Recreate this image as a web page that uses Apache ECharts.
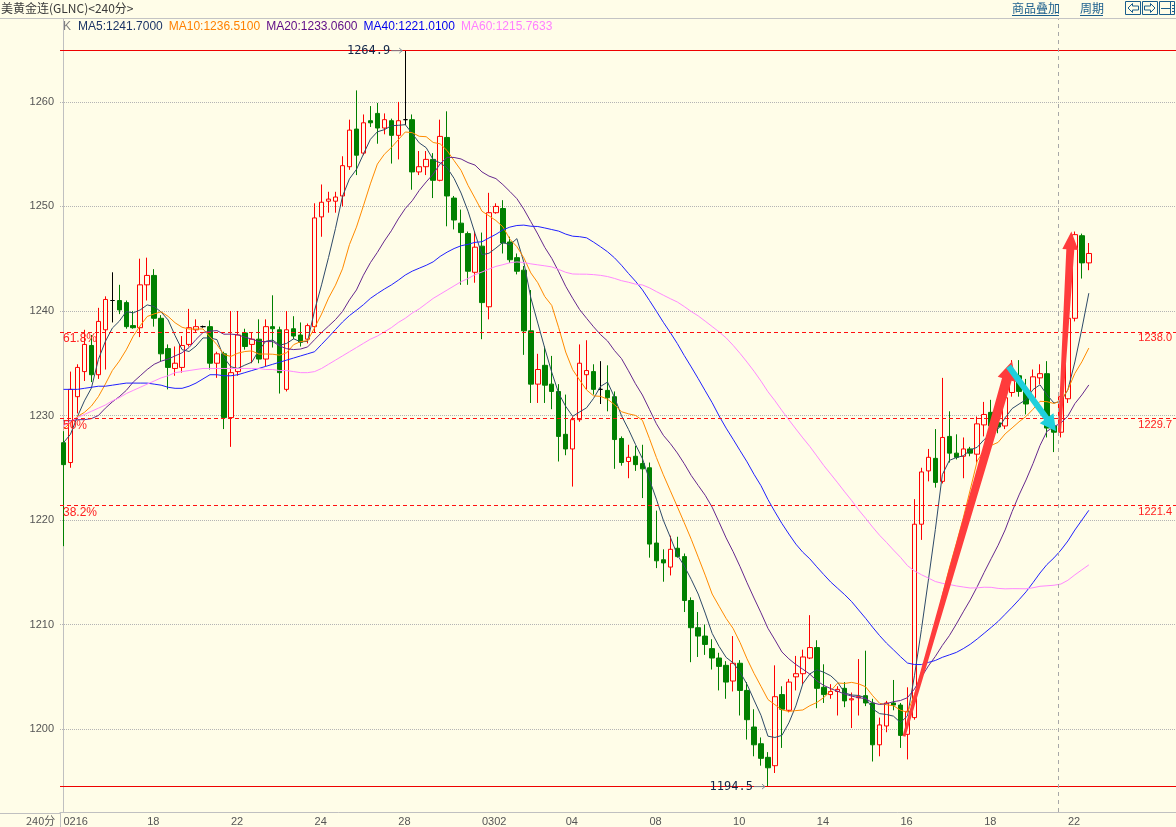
<!DOCTYPE html>
<html><head><meta charset="utf-8">
<script src="https://cdn.jsdelivr.net/npm/echarts@6/dist/echarts.min.js"></script>
<style>html,body{margin:0;padding:0;background:#fffde8;}#c{width:1176px;height:827px;}</style>
</head><body><div id="c"></div><script>
// ---- data ----
const opens=[1227.4,1225.5,1231.8,1234.2,1236.7,1233.9,1238.2,1241.0,1241.0,1240.8,
1238.6,1238.4,1242.5,1243.4,1239.3,1236.4,1234.5,1234.6,1236.8,1238.2,
1238.5,1238.5,1235.0,1235.9,1229.8,1234.2,1237.9,1236.8,1237.3,1235.4,
1238.5,1238.2,1232.5,1238.3,1237.7,1237.3,1238.5,1249.0,1250.5,1250.5,
1251.0,1253.8,1257.4,1255.1,1258.2,1258.9,1257.5,1258.2,1256.8,1258.3,
1258.3,1253.3,1253.8,1254.5,1252.5,1256.6,1250.8,1248.4,1247.4,1243.7,
1246.2,1240.4,1249.4,1249.8,1246.6,1245.1,1243.9,1238.1,1233.0,1234.8,
1233.0,1232.3,1228.2,1226.8,1229.6,1233.9,1234.2,1232.5,1232.4,1231.8,
1227.8,1225.6,1226.1,1225.4,1225.0,1217.8,1216.2,1215.5,1217.3,1216.5,
1212.3,1209.7,1208.9,1207.7,1206.8,1206.1,1204.6,1206.3,1203.7,1200.2,
1198.6,1197.3,1196.5,1203.3,1201.8,1205.0,1205.3,1206.8,1207.8,1204.0,
1203.3,1203.6,1203.9,1202.8,1203.0,1203.2,1202.5,1198.5,1200.3,1202.5,
1202.3,1199.5,1201.1,1219.6,1224.7,1225.9,1223.7,1228.0,1226.4,1226.1,
1226.8,1226.3,1229.1,1230.3,1229.3,1229.0,1232.2,1233.8,1232.3,1231.7,
1233.6,1234.0,1229.0,1228.4,1231.6,1239.3,1247.2,1244.6];
const closes=[1225.3,1232.5,1234.6,1236.8,1233.9,1239.0,1241.1,1241.0,1240.1,1238.5,
1238.4,1242.5,1243.4,1239.3,1235.9,1234.6,1235.0,1236.7,1238.4,1238.5,
1238.5,1235.0,1235.9,1229.8,1234.1,1237.7,1236.6,1237.3,1235.4,1238.5,
1238.3,1234.1,1238.2,1237.6,1237.0,1238.6,1248.9,1250.4,1250.7,1250.9,
1253.9,1257.3,1254.9,1258.0,1258.0,1257.5,1258.3,1256.8,1258.2,1258.3,
1253.3,1253.8,1254.5,1252.5,1256.7,1251.0,1248.7,1247.5,1243.8,1246.1,
1240.8,1249.4,1250.0,1246.5,1244.9,1243.8,1238.1,1233.0,1234.4,1232.9,
1232.3,1228.0,1226.8,1229.6,1235.0,1234.3,1232.5,1232.5,1231.7,1227.7,
1225.5,1226.0,1225.3,1224.9,1217.7,1216.1,1215.9,1217.2,1216.5,1212.3,
1209.7,1208.9,1208.1,1206.8,1206.0,1204.5,1206.3,1203.7,1200.9,1198.5,
1197.2,1196.3,1203.1,1201.9,1204.5,1205.3,1206.9,1207.8,1203.9,1203.3,
1203.6,1203.8,1202.7,1202.9,1203.1,1202.5,1198.5,1200.4,1202.5,1202.3,
1199.4,1201.7,1219.6,1224.6,1226.0,1223.6,1227.9,1226.4,1226.0,1226.8,
1226.4,1229.2,1230.1,1229.0,1228.9,1231.7,1233.6,1232.3,1231.1,1233.7,
1234.0,1228.8,1228.4,1231.8,1239.3,1247.3,1244.6,1245.5];
const lows=[1217.5,1225.0,1230.2,1233.3,1233.2,1233.5,1234.4,1238.9,1239.7,1238.3,
1238.3,1237.5,1241.0,1238.5,1235.2,1232.5,1233.8,1234.1,1236.6,1238.0,
1238.4,1234.4,1233.6,1228.7,1227.0,1233.8,1236.3,1235.0,1235.0,1234.7,
1236.5,1232.1,1232.3,1237.3,1236.6,1236.9,1237.9,1247.1,1249.4,1249.4,
1250.0,1253.5,1253.0,1254.9,1257.6,1256.0,1256.9,1254.1,1254.5,1257.8,
1251.6,1253.0,1253.0,1250.8,1252.4,1248.1,1247.8,1242.5,1242.5,1242.7,
1237.3,1239.2,1249.3,1245.5,1244.6,1243.5,1235.8,1231.2,1231.2,1231.2,
1230.6,1225.6,1226.2,1223.2,1229.4,1232.5,1232.0,1231.1,1230.4,1224.9,
1225.2,1224.0,1224.7,1222.1,1216.4,1215.4,1214.1,1214.7,1216.4,1211.2,
1206.4,1206.9,1207.1,1205.7,1203.7,1202.9,1203.6,1201.3,1199.0,1197.4,
1196.5,1194.5,1195.8,1198.2,1201.6,1203.7,1204.3,1206.7,1202.0,1202.5,
1202.9,1201.3,1202.1,1200.1,1201.3,1202.2,1196.9,1197.4,1199.7,1201.8,
1198.2,1197.1,1200.9,1218.1,1223.7,1223.1,1223.5,1225.5,1225.8,1224.0,
1226.1,1225.5,1228.0,1228.6,1228.3,1228.7,1231.8,1231.8,1230.1,1231.4,
1233.0,1227.9,1226.5,1227.9,1231.2,1239.0,1243.1,1243.9];
const highs=[1228.5,1234.2,1234.9,1238.2,1237.7,1240.3,1241.4,1243.7,1242.5,1241.0,
1240.0,1245.0,1245.1,1244.0,1239.6,1236.8,1236.6,1237.6,1240.2,1239.2,
1238.6,1239.1,1236.1,1236.1,1240.0,1240.0,1238.3,1237.9,1239.2,1239.2,
1241.5,1238.5,1240.0,1239.5,1238.9,1238.8,1250.3,1252.1,1251.4,1251.4,
1254.8,1258.3,1261.1,1258.8,1259.6,1259.9,1258.9,1258.4,1260.0,1264.9,
1258.8,1255.3,1255.3,1255.1,1258.3,1259.1,1251.0,1249.7,1247.6,1247.6,
1247.5,1251.3,1250.3,1250.6,1247.1,1245.5,1244.3,1242.0,1235.9,1236.6,
1235.7,1233.0,1232.0,1229.9,1236.8,1237.2,1234.9,1235.2,1234.8,1232.3,
1228.0,1227.2,1227.1,1227.2,1225.5,1220.9,1217.2,1218.5,1218.4,1216.8,
1212.6,1211.2,1210.0,1208.6,1207.3,1206.5,1208.9,1206.6,1204.5,1201.9,
1199.2,1197.8,1206.1,1204.1,1204.8,1207.0,1207.6,1210.9,1208.5,1206.2,
1204.3,1204.1,1204.5,1203.5,1206.7,1207.5,1202.9,1201.1,1202.7,1204.7,
1202.5,1204.0,1222.0,1225.0,1226.8,1228.7,1233.6,1230.4,1228.2,1227.9,
1227.0,1229.9,1231.3,1231.5,1231.0,1233.0,1235.3,1235.3,1233.5,1234.4,
1234.9,1235.2,1229.2,1232.3,1239.6,1247.6,1247.4,1246.5];
const tickLabels=['0216','18','22','24','28','0302','04','08','10','14','16','18','22'];
const ma5Head=[1227.4,1228.2,1229.9,1231.4];
const ma10Head=[1228.7,1229.3,1229.9,1230.3,1230.9,1231.8,1233.0,1234.3,1235.2];
const ma20Head=[1229.5,1229.5,1229.6,1229.6,1229.7,1230.0,1230.7,1231.3,1231.8,1232.4,
1233.2,1233.8,1234.4,1234.9,1235.2,1235.4,1235.7,1236.0,1236.5];
const ma40Head=[1232.5,1232.5,1232.5,1232.6,1232.7,1232.8,1232.8,1232.9,1233.0,1233.1,
1233.1,1233.1,1233.1,1233.0,1232.9,1232.7,1232.6,1232.6,1232.8,1233.1,
1233.5,1233.9,1233.9,1233.8,1233.8,1233.9,1234.1,1234.3,1234.5,1234.7,
1234.9,1235.1,1235.3,1235.5,1235.7,1235.9,1236.1,1236.8,1237.5];
const ma60Head=[1229.0,1229.4,1229.8,1230.1,1230.4,1230.7,1231.0,1231.4,1231.7,1232.1,
1232.4,1232.7,1233.0,1233.3,1233.6,1233.8,1234.1,1234.2,1234.3,1234.4,
1234.5,1234.5,1234.5,1234.5,1234.5,1234.5,1234.5,1234.5,1234.5,1234.4,
1234.4,1234.3,1234.3,1234.2,1234.1,1234.1,1234.2,1234.5,1234.9,1235.3,
1235.7,1236.1,1236.5,1236.9,1237.3,1237.6,1238.0,1238.4,1238.9,1239.3,
1239.8,1240.2,1240.7,1241.2,1241.6,1242.0,1242.4,1242.8,1243.1];
const maLegendValues=['1241.7000','1236.5100','1233.0600','1221.0100','1215.7633'];
const fibLevels=[1238.0,1229.7,1221.4];
const fibNames=['61.8%','50%','38.2%'];
const extremeLevels=[1264.9,1194.5];
const extremePoints=[[49,1264.9],[101,1194.5]];
const cursorIndex=142.6;
const arrowPoints=[[120.5,1199.3,136.0,1235.2],[142.8,1228.4,144.5,1247.6],[135.5,1234.7,142.3,1228.5]];

// ---- chart ----
const BG='#fffde8';
const SLOTS=160;
const cats=Array.from({length:SLOTS},(_,i)=>'b'+i);
function movingAvg(n,head){
  return closes.map((c,i)=>{
    if(i<n-1) return head[i];
    let s=0; for(let k=i-n+1;k<=i;k++) s+=closes[k];
    return +(s/n).toFixed(3);
  });
}
const candle=closes.map((c,i)=>[opens[i],c,lows[i],highs[i]]);
const maDefs=[['MA5',5,ma5Head,'#2e4a68'],['MA10',10,ma10Head,'#ff8a00'],['MA20',20,ma20Head,'#66288e'],['MA40',40,ma40Head,'#2020ff'],['MA60',60,ma60Head,'#ff88ff']];
const legendColors=['#1c3566','#ff8000','#5e0a86','#0000ee','#ff80ff'];
const arrowStyles=[{fill:'#ff3c3c',tw:3,sw:10,hw:19,hl:19},{fill:'#ff3c3c',tw:3,sw:8,hw:16,hl:18},{fill:'#1fd0dc',tw:6,sw:6,hw:17,hl:16}];
const FONT='Liberation Sans, Noto Sans CJK SC, sans-serif';

const chart=echarts.init(document.getElementById('c'),null,{renderer:'canvas'});
const series=[{
  type:'candlestick',name:'K',data:candle,barWidth:5,z:2,
  itemStyle:{color:BG,color0:'#008000',borderColor:'#ff0000',borderColor0:'#008000',borderColorDoji:'#000000',borderWidth:1},
  markLine:{silent:true,symbol:'none',animation:false,label:{show:false},
    data:extremeLevels.map(v=>({yAxis:v,lineStyle:{color:'#ee0000',type:'solid',width:1}}))
      .concat(fibLevels.map(v=>({yAxis:v,lineStyle:{color:'#ff1010',type:[4,3],width:1}})))}
}];
maDefs.forEach(d=>series.push({type:'line',name:d[0],data:movingAvg(d[1],d[2]),showSymbol:false,symbol:'none',z:3,
  lineStyle:{color:d[3],width:1},itemStyle:{color:d[3]}}));
series.push({type:'custom',xAxisIndex:1,yAxisIndex:0,silent:true,z:4,
  data:fibLevels.map((v,i)=>[i,v]),
  renderItem:(p,api)=>{const i=api.value(0),v=api.value(1);const pt=api.coord([-0.5,v]);
    return {type:'group',children:[
      {type:'text',style:{text:fibNames[i],x:pt[0]+3,y:pt[1]+1,verticalAlign:'top',fill:'#ff2020',font:'12px '+FONT}},
      {type:'text',style:{text:v.toFixed(1),x:api.getWidth()-4,y:pt[1]+1,align:'right',verticalAlign:'top',fill:'#ff2020',font:'11px '+FONT}}]};}
});
series.push({type:'custom',xAxisIndex:1,yAxisIndex:0,silent:true,z:5,
  data:extremePoints,
  renderItem:(p,api)=>{const pt=api.coord([api.value(0),api.value(1)]);const x=pt[0],y=pt[1];
    return {type:'group',children:[
      {type:'text',style:{text:api.value(1).toFixed(1),x:x-15,y:y,align:'right',verticalAlign:'middle',fill:'#14284a',font:'12px DejaVu Sans Mono, monospace'}},
      {type:'line',shape:{x1:x-14,y1:y,x2:x-3,y2:y},style:{stroke:'#7c8a96',lineWidth:1}},
      {type:'polyline',shape:{points:[[x-6,y-2.5],[x-3,y],[x-6,y+2.5]]},style:{stroke:'#7c8a96',lineWidth:1,fill:null}}]};},
  markLine:{silent:true,symbol:'none',animation:false,label:{show:false},data:[{xAxis:cursorIndex}],lineStyle:{color:'#a8a8a8',type:[4,4],width:1}}
});
series.push({type:'custom',xAxisIndex:1,yAxisIndex:0,silent:true,z:6,
  data:arrowPoints,
  renderItem:(p,api)=>{const s=arrowStyles[p.dataIndex];
    const a=api.coord([api.value(0),api.value(1)]),b=api.coord([api.value(2),api.value(3)]);
    const dx=b[0]-a[0],dy=b[1]-a[1],L=Math.hypot(dx,dy),ux=dx/L,uy=dy/L,nx=-uy,ny=ux;
    const sx=b[0]-ux*s.hl,sy=b[1]-uy*s.hl;
    const P=(x,y,w)=>[x+nx*w/2,y+ny*w/2];
    const pts=[P(a[0],a[1],s.tw),P(sx,sy,s.sw),P(sx,sy,s.hw),[b[0],b[1]],P(sx,sy,-s.hw),P(sx,sy,-s.sw),P(a[0],a[1],-s.tw)];
    return {type:'polygon',shape:{points:pts},style:{fill:s.fill}};}
});

const linkColor='#1b5e8c';
const legendTexts=[];
let lx=78;
maDefs.forEach((d,i)=>{const t=d[0]+':'+maLegendValues[i];
  legendTexts.push({type:'text',left:lx,top:21,style:{text:t,fill:legendColors[i],font:'12px '+FONT}});
  lx+=echarts.format.getTextRect ? echarts.format.getTextRect(t,'12px '+FONT).width+6 : t.length*6.8+6;});
const graphic=[
  {type:'line',shape:{x1:0,y1:18.5,x2:1176,y2:18.5},style:{stroke:'#c4c4c4',lineWidth:1}},
  {type:'text',left:1,top:2,style:{text:'美黄金连(GLNC)<240分>',fill:'#3a3a3a',font:'12px Noto Sans CJK SC, sans-serif'}},
  {type:'text',left:1012,top:2,style:{text:'商品叠加',fill:linkColor,font:'12px Noto Sans CJK SC, sans-serif'}},
  {type:'line',shape:{x1:1012,y1:15.5,x2:1059,y2:15.5},style:{stroke:linkColor,lineWidth:1}},
  {type:'text',left:1080,top:2,style:{text:'周期',fill:linkColor,font:'12px Noto Sans CJK SC, sans-serif'}},
  {type:'line',shape:{x1:1080,y1:15.5,x2:1103,y2:15.5},style:{stroke:linkColor,lineWidth:1}},
  {type:'rect',shape:{x:1125.5,y:1.5,width:15,height:13},style:{stroke:linkColor,fill:null,lineWidth:1}},
  {type:'polygon',shape:{points:[[1128,8],[1132.5,3.5],[1132.5,6],[1138.5,6],[1138.5,10],[1132.5,10],[1132.5,12.5]]},style:{stroke:linkColor,fill:null,lineWidth:1}},
  {type:'rect',shape:{x:1142.5,y:1.5,width:15,height:13},style:{stroke:linkColor,fill:null,lineWidth:1}},
  {type:'polygon',shape:{points:[[1155,8],[1150.5,3.5],[1150.5,6],[1144.5,6],[1144.5,10],[1150.5,10],[1150.5,12.5]]},style:{stroke:linkColor,fill:null,lineWidth:1}},
  {type:'rect',shape:{x:1159.5,y:1.5,width:15,height:13},style:{stroke:linkColor,fill:null,lineWidth:1}},
  {type:'line',shape:{x1:1170.5,y1:2,x2:1170.5,y2:14},style:{stroke:linkColor,lineWidth:1}},
  {type:'line',shape:{x1:1161,y1:8.5,x2:1170,y2:8.5},style:{stroke:linkColor,lineWidth:1}},
  {type:'line',shape:{x1:1172,y1:5.5,x2:1174,y2:5.5},style:{stroke:linkColor,lineWidth:1}},
  {type:'line',shape:{x1:1172,y1:8.5,x2:1174,y2:8.5},style:{stroke:linkColor,lineWidth:1}},
  {type:'line',shape:{x1:1172,y1:11.5,x2:1174,y2:11.5},style:{stroke:linkColor,lineWidth:1}},
  {type:'text',left:63,top:21,style:{text:'K',fill:'#808080',font:'12px '+FONT}}
].concat(legendTexts).concat([
  {type:'line',shape:{x1:0,y1:813.5,x2:60,y2:813.5},style:{stroke:'#c0c0c0',lineWidth:1}},
  {type:'line',shape:{x1:60.5,y1:813,x2:60.5,y2:827},style:{stroke:'#c0c0c0',lineWidth:1}},
  {type:'text',left:26,top:815,style:{text:'240分',fill:'#555',font:'11px Noto Sans CJK SC, sans-serif'}}
]);

chart.setOption({
  animation:false,backgroundColor:BG,
  grid:{left:60,top:19,width:SLOTS*7,height:794,containLabel:false},
  xAxis:[{type:'category',data:cats,boundaryGap:true,
      axisLine:{lineStyle:{color:'#c0c0c0'}},axisTick:{show:false},splitLine:{show:false},
      axisLabel:{interval:11,margin:4,align:'left',color:'#555',fontSize:11,fontFamily:FONT,
        formatter:(v,idx)=>tickLabels[idx/12]||''}},
    {type:'value',min:-0.5,max:SLOTS-0.5,show:false}],
  yAxis:{type:'value',min:1192.07,max:1267.93,splitNumber:8,
    axisLine:{show:true,lineStyle:{color:'#c0c0c0'}},axisTick:{show:false},
    axisLabel:{color:'#555',fontSize:11,fontFamily:FONT,margin:6,showMinLabel:false,showMaxLabel:false,
      formatter:v=>String(Math.round(v))},
    splitLine:{show:true,showMinLine:false,showMaxLine:false,lineStyle:{color:'#b4b4b4',type:'dotted'}}},
  series:series,
  graphic:graphic
});
</script></body></html>
